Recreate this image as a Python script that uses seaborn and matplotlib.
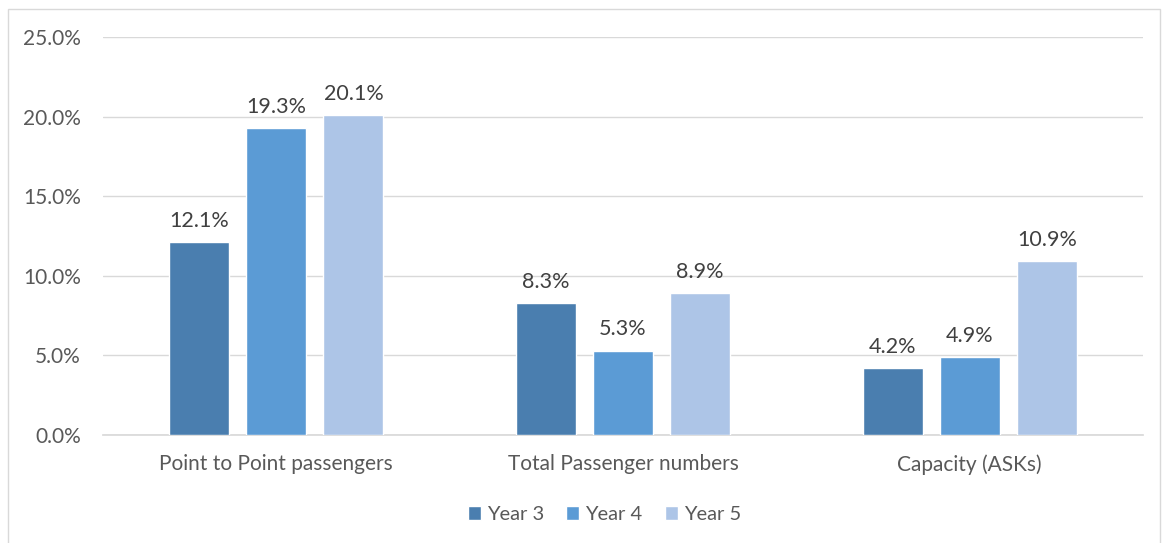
import pandas as pd
import seaborn as sns
import matplotlib.pyplot as plt
from matplotlib.patches import Rectangle
from matplotlib.ticker import FuncFormatter

categories = ['Point to Point passengers', 'Total Passenger numbers', 'Capacity (ASKs)']
years = ['Year 3', 'Year 4', 'Year 5']
year3 = [12.1, 8.3, 4.2]
year4 = [19.3, 5.3, 4.9]
year5 = [20.1, 8.9, 10.9]
colors = ['#4A7EAF', '#5B9BD5', '#ADC5E7']

df = pd.DataFrame({
    'category': categories * 3,
    'year': [y for y in years for _ in categories],
    'value': year3 + year4 + year5,
})

sns.set_theme(style='white')
plt.rcParams['font.family'] = ['Lato', 'DejaVu Sans']
txt = '#595959'

fig = plt.figure(figsize=(11.64, 5.43), dpi=100)
ax = fig.add_axes([0.0885, 0.199, 0.8935, 0.733])

sns.barplot(data=df, x='category', y='value', hue='year', palette=colors,
            width=0.667, gap=0.22, ax=ax, saturation=1, zorder=3)

for cont in ax.containers:
    ax.bar_label(cont, labels=[f'{v:.1f}%' for v in cont.datavalues],
                 padding=8, fontsize=15.5, color='#404040')

ax.set_ylim(0, 25)
ax.set_yticks([0, 5, 10, 15, 20, 25])
ax.yaxis.set_major_formatter(FuncFormatter(lambda v, p: f'{v:.1f}%'))
ax.grid(axis='y', color='#D9D9D9', linewidth=1, zorder=0)
ax.set_axisbelow(True)
ax.set_xlabel('')
ax.set_ylabel('')
for s in ['top', 'right', 'left']:
    ax.spines[s].set_visible(False)
ax.spines['bottom'].set_color('#D9D9D9')
ax.tick_params(axis='both', length=0, labelsize=15, colors=txt)
ax.tick_params(axis='y', pad=16)
ax.tick_params(axis='x', pad=14)

ax.legend(loc='upper center', bbox_to_anchor=(0.482, -0.133), ncol=3, frameon=False,
          fontsize=14.5, labelcolor=txt, handlelength=0.65, handleheight=0.65,
          handletextpad=0.3, columnspacing=1.1)

fig.patches.append(Rectangle((8 / 1164, -0.01), 1152 / 1164, 1 - 9 / 543 + 0.01,
                             transform=fig.transFigure, fill=False,
                             edgecolor='#D9D9D9', linewidth=1))

fig.savefig('out.png', dpi=100)
